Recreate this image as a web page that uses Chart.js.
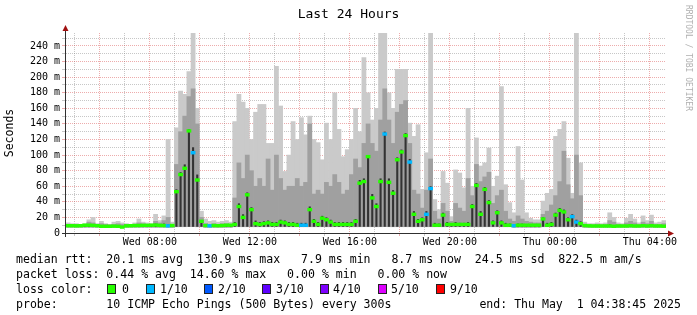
<!DOCTYPE html>
<html><head><meta charset="utf-8">
<script src="https://cdn.jsdelivr.net/npm/chart.js@4/dist/chart.umd.min.js"></script>
<style>
html,body{margin:0;padding:0;background:#fff;}
#wrap{position:relative;width:697px;height:315px;overflow:hidden;background:#fff;}
#c{position:absolute;left:0;top:0;}
.t{position:absolute;font-family:'DejaVu Sans Mono',monospace;white-space:pre;color:#000;font-size:11.55px;line-height:14px;}
.box{position:absolute;width:7px;height:8px;border:1px solid #222;}
#title{position:absolute;left:0;top:6px;width:697px;text-align:center;font-family:'DejaVu Sans Mono',monospace;font-size:13px;line-height:16px;color:#000;}
#wm{position:absolute;left:684px;top:5px;writing-mode:vertical-rl;font-family:'DejaVu Sans Mono',monospace;font-size:8px;line-height:9px;color:#b0b0b0;white-space:pre;}
</style></head><body>
<div id="wrap">
<canvas id="c" width="697" height="315"></canvas>
<div id="title">Last 24 Hours</div>
<div id="wm">RRDTOOL / TOBI OETIKER</div>
<div id="legend"></div>
</div>
<script>
// ---- time axis (10-minute samples over 24 h, ending Thu 04:38:45) ----
const START_MIN = 4 * 60 + 38.75;   // Wed 04:38:45 in minutes of day
const SPAN_MIN = 1440;
const STEP_MIN = 10;
const xTickHours = [5,6,7,8,9,10,11,12,13,14,15,16,17,18,19,20,21,22,23,24,25,26,27,28];
const xTickLabelHours = [8, 12, 16, 20, 24, 28];
const xTickLabels = ['Wed 08:00', 'Wed 12:00', 'Wed 16:00', 'Wed 20:00', 'Thu 00:00', 'Thu 04:00'];
const yTickValues = [0,10,20,30,40,50,60,70,80,90,100,110,120,130,140,150,160,170,180,190,200,210,220,230,240,250];

// ---- series (milliseconds) ----
const median = [
 9.4,9.4,9.2,9.4,10,10,9.8,9.4,8.6,8.6,8.6,8.8,8.6,7.6,9.2,9.4,9.6,9.6,9.8,9.8,10,10.2,9.8,9.6,
 9.2,9.6,53,75,83,131,103,68,15,9.6,9.2,9.6,9.4,9.6,10,10,11,34,20,49,30,12,11,12,
 13,11,11,14,13,11,11,10,10,10,30,15,11,19,17,14,11,11,11,11,11,15,64,66,
 98,45,34,66,127,65,51,94,104,125,91,24,15,17,24,57,10,10,23,11,11,11,11,11,
 11,34,61,24,56,39,13,26,13,10,10,9.4,10,10,10,10,10,10,18,10,11,23,29,27,
 17,21,14,12,9.6,9.2,9,9,9,9,9,8.6,9,9,9,9.4,9,9,9.4,9,9.4,9,9,8.7
];
const lossTenths = [
 0,0,0,0,0,0,0,0,0,0,0,0,0,0,0,0,0,0,0,0,0,0,0,0,
 1,0,0,0,0,0,1,0,0,0,1,0,0,0,0,0,0,0,0,0,0,0,0,0,
 0,0,0,0,0,0,0,0,1,1,0,0,0,0,0,0,0,0,0,0,0,0,0,0,
 0,0,0,0,1,0,0,0,0,0,1,0,0,0,1,1,0,0,0,0,0,0,0,0,
 0,0,0,0,0,0,0,0,0,0,0,1,0,0,0,0,0,0,0,0,0,0,0,0,
 0,1,1,0,0,0,0,0,0,0,0,0,0,0,0,0,0,0,0,0,0,0,0,0
];
const pingMin = [
 7.5,7.5,7.5,7.5,7.5,7.5,7.5,7.5,7.5,7.5,7.5,7.5,7.5,7,7.5,7.5,7.5,7.5,7.5,7.5,7.5,7.5,7.5,7.5,
 7.5,7.5,8,8,8,8,8,8,8,7.5,7.5,7.5,7.5,7.5,7.5,7.5,8,8,8,8,8,8,8,8,
 8,8,8,8,8,8,8,8,8,8,8,8,8,8,8,8,8,8,8,8,8,8,8,8,
 8,8,8,8,8,8,8,8,8,8,8,8,8,8,8,8,8,8,8,8,8,8,8,8,
 8,8,8,8,8,8,8,8,8,8,8,7.5,7.5,7.5,7.5,7.5,7.5,7.5,8,8,8,8,8,8,
 8,8,8,8,7.5,7.5,7.5,7.5,7.5,7.5,7.5,7.5,7.5,7.5,7.5,7.5,7.5,7.5,7.5,7.5,7.5,7.5,7.5,7.5
];
const pingMax = [
 13,12,12,11,12,17,20,12,15,12,11,14,15,13,12,11,13,18,14,13,12,24,16,22,
 120,14,135,182,178,207,260,160,28,18,15,16,14,15,16,14,143,178,168,160,120,155,165,165,
 115,115,214,163,79,100,143,120,148,126,150,120,116,94,141,120,180,133,98,107,120,160,130,225,
 180,145,160,260,260,180,160,210,210,210,141,124,139,56,103,260,43,30,79,64,21,81,77,58,
 160,60,122,86,90,109,60,73,188,62,39,26,111,68,26,19,17,17,41,51,56,124,133,143,
 96,51,260,90,14,12,12,13,12,13,26,20,13,12,19,24,18,13,22,16,23,13,14,16
];
const pingMid = [
 11,11,11,10.5,11,14,13,11,12,11,10.5,11,12,11,11,10.5,11,13,12,11,11,15,13,16,
 20,11,88,130,150,175,185,140,20,12,11,12,11,12,12,11,45,90,70,100,80,60,70,60,
 95,55,100,70,55,60,60,70,60,65,140,50,55,50,65,60,75,65,50,55,75,95,84,115,
 140,115,105,145,185,145,115,155,165,170,115,55,50,32,55,95,28,18,38,28,15,38,32,28,
 70,48,88,66,72,78,38,48,55,28,18,15,22,18,15,14,13,13,24,28,36,48,66,105,
 62,44,100,48,11,10.5,10.5,11,10.5,11,16,14,11,10.5,13,15,13,11,14,12,15,11,11,12
];
const pingDark = [
 10,10,10,10,10.5,11,11,10,10,9.5,9.5,10,10,9,10,10,10.5,11,11,10.5,11,12,11,12,
 11,10,56,78,88,133,110,75,16,10,10,10,10,10,11,10.5,14,38,24,52,33,16,14,15,
 16,14,14,17,16,14,14,13,13,13,34,18,14,22,20,17,14,14,14,14,14,18,68,70,
 100,50,38,70,130,70,55,97,107,128,95,28,18,20,28,60,13,12,26,14,12,14,13,13,
 14,37,64,28,59,42,16,29,16,13,12,11,12,12,11,11,11,11,20,13,14,26,32,30,
 20,24,17,15,10,10,10,10,10,10,11,10,10,10,10,10.5,10,10,10.5,10,10.5,10,10,10
];
const lossLevels = ['0', '1/10', '2/10', '3/10', '4/10', '5/10', '9/10'];
const lossLevelTenths = [0, 1, 2, 3, 4, 5, 9];
const lossLevelColors = ['#26ff00', '#00b8ff', '#0059ff', '#5e00ff', '#7e00ff', '#dd00ff', '#ff0000'];

// ---- styles ----
const MAJOR = 'rgba(215,70,70,0.45)';
const MINOR = 'rgba(130,130,130,0.45)';
const MED_HALF = 1.8;
const MONO = "'DejaVu Sans Mono', monospace";

function lossColor(t){
  let c = lossLevelColors[0];
  for (let k = 0; k < lossLevelTenths.length; k++) if (t >= lossLevelTenths[k]) c = lossLevelColors[k];
  return c;
}
const sampleTimes = median.map((_, i) => (i + 0.5) * STEP_MIN);
const band = (lo, hi) => lo.map((l, i) => ({x: sampleTimes[i], y: [l, hi[i]]}));
const common = {barPercentage: 1, categoryPercentage: 1, grouped: false, borderWidth: 0, inflateAmount: 0.3};

const axisPlugin = {
  id: 'rrdAxes',
  afterDraw(chart){
    const {ctx, chartArea: a} = chart;
    ctx.save();
    ctx.strokeStyle = '#303030';
    ctx.lineWidth = 1;
    ctx.beginPath();
    ctx.moveTo(a.left - 4, Math.round(a.bottom) + 0.5);
    ctx.lineTo(a.right + 4, Math.round(a.bottom) + 0.5);
    ctx.moveTo(a.left - 0.5, a.bottom + 4);
    ctx.lineTo(a.left - 0.5, a.top - 4);
    ctx.stroke();
    ctx.fillStyle = '#a01010';
    const yb = Math.round(a.bottom) + 0.5;
    ctx.beginPath();
    ctx.moveTo(a.right + 2, yb - 3); ctx.lineTo(a.right + 2, yb + 3); ctx.lineTo(a.right + 8, yb); ctx.closePath(); ctx.fill();
    const xl = a.left - 0.5;
    ctx.beginPath();
    ctx.moveTo(xl - 3, a.top - 2); ctx.lineTo(xl + 3, a.top - 2); ctx.lineTo(xl, a.top - 8); ctx.closePath(); ctx.fill();
    ctx.restore();
  }
};

new Chart(document.getElementById('c'), {
  type: 'bar',
  data: {
    datasets: [
      Object.assign({label: 'median', order: 0, data: median.map((m, i) => ({x: sampleTimes[i], y: [m - MED_HALF, m + MED_HALF]})),
        backgroundColor: lossTenths.map(lossColor)}, common),
      Object.assign({}, common, {label: 'core', order: 1, data: band(pingMin, pingDark), backgroundColor: '#333333', barPercentage: 0.5, inflateAmount: 0}),
      Object.assign({label: 'mid', order: 2, data: band(pingMin, pingMid), backgroundColor: '#a0a0a0'}, common),
      Object.assign({label: 'outer', order: 3, data: band(pingMin, pingMax), backgroundColor: '#cacaca'}, common)
    ]
  },
  options: {
    responsive: false, animation: false, devicePixelRatio: 1,
    layout: {padding: {top: 33, right: 31, left: 0, bottom: 0}},
    plugins: {legend: {display: false}, tooltip: {enabled: false}},
    scales: {
      x: {
        type: 'linear', min: 0, max: SPAN_MIN, offset: false,
        afterBuildTicks: s => { s.ticks = xTickHours.map(h => ({value: h * 60 - START_MIN})); },
        afterFit: s => { s.height = 82; },
        ticks: {autoSkip: false, maxRotation: 0, minRotation: 0, padding: 0, color: '#000',
          font: {family: MONO, size: 10},
          callback: v => { const h = Math.round((v + START_MIN) / 60); const k = xTickLabelHours.indexOf(h); return k >= 0 ? xTickLabels[k] : ''; }},
        grid: {offset: false, tickLength: 3, lineWidth: 1,
          color: c => (c.tick && Math.round((c.tick.value + START_MIN) / 60) % 2 === 0) ? MAJOR : MINOR},
        border: {display: false, dash: [1, 1]}
      },
      y: {
        type: 'linear', min: 0, max: 256.6,
        afterBuildTicks: s => { s.ticks = yTickValues.map(v => ({value: v})); },
        afterFit: s => { s.width = 66; },
        ticks: {autoSkip: false, padding: 2, color: '#000', font: {family: MONO, size: 10},
          callback: v => v % 20 === 0 ? (v === 0 ? '0' : v + ' m') : ''},
        grid: {tickLength: 4, lineWidth: 1,
          color: c => (c.tick && c.tick.value % 20 === 0) ? MAJOR : MINOR},
        border: {display: false, dash: [1, 1]},
        title: {display: true, text: 'Seconds', color: '#000', font: {family: MONO, size: 11.5}, padding: {top: 3, bottom: 0}}
      }
    }
  },
  plugins: [axisPlugin]
});

// ---- legend (text) ----
const legendLines = [
  'median rtt:  20.1 ms avg  130.9 ms max   7.9 ms min   8.7 ms now  24.5 ms sd  822.5 m am/s',
  'packet loss: 0.44 % avg  14.60 % max   0.00 % min   0.00 % now',
  'loss color:',
  'probe:       10 ICMP Echo Pings (500 Bytes) every 300s'
];
const endText = 'end: Thu May  1 04:38:45 2025';
const legendY = [259, 274, 289, 304];
const lossBoxX = [107, 146, 204, 262, 320, 378, 436];
const lossTextX = [122, 160, 218, 276, 333, 391, 450];
const lg = document.getElementById('legend');
function addText(s, left, cy, right){
  const d = document.createElement('div'); d.className = 't'; d.textContent = s;
  if (right !== undefined) d.style.right = right + 'px'; else d.style.left = left + 'px';
  d.style.top = (cy - 7.5) + 'px'; lg.appendChild(d);
}
legendLines.forEach((s, k) => addText(s, 16, legendY[k]));
addText(endText, 0, legendY[3], 697 - 681);
lossLevels.forEach((s, k) => {
  const b = document.createElement('div'); b.className = 'box';
  b.style.left = lossBoxX[k] + 'px'; b.style.top = (legendY[2] - 5) + 'px'; b.style.background = lossLevelColors[k]; lg.appendChild(b);
  addText(s, lossTextX[k], legendY[2]);
});
</script>
</body></html>
